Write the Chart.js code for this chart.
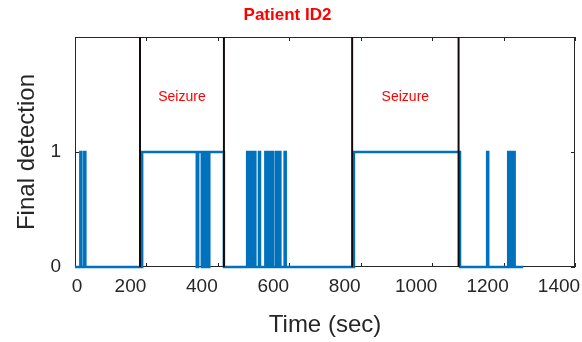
<!DOCTYPE html>
<html>
<head>
<meta charset="utf-8">
<title>Patient ID2</title>
<script src="https://cdn.jsdelivr.net/npm/chart.js@4.4.1/dist/chart.umd.min.js"></script>
<style>
    body { margin: 0; background: #ffffff; }
    #wrap { width: 582px; height: 342px; }
</style>
</head>
<body>
<div id="wrap"><canvas id="detectionChart" width="582" height="342"></canvas></div>
<script>
// Detection output: time (sec) where the value changes, and the new value
var detTime = [0, 15, 18, 26, 29, 188, 341, 345, 355, 359, 363, 366, 372, 376, 417,
               482, 485, 491, 494, 501, 505, 515, 518, 533, 537, 542, 545, 552, 555,
               563, 566, 571, 575, 587, 590, 781, 1078, 1154, 1157, 1213, 1216, 1218,
               1221, 1223, 1226, 1228, 1231, 1255];
var detValue = [0, 1, 0, 1, 0, 1, 0, 1, 0, 1, 0, 1, 0, 1, 0,
                1, 0, 1, 0, 1, 0, 1, 0, 1, 0, 1, 0, 1, 0,
                1, 0, 1, 0, 1, 0, 1, 0, 1, 0, 1, 0, 1,
                0, 1, 0, 1, 0, 0];

// Seizure onset / offset markers (sec)
var seizureStart = [182, 776];
var seizureEnd = [417, 1074];
var seizureLabel = 'Seizure';

var xTicks = [0, 200, 400, 600, 800, 1000, 1200, 1400];
var yTicks = [0, 1];

var textColor = '#262626';
var fontFamily = 'Arial, "Liberation Sans", Helvetica, sans-serif';

function buildDatasets() {
    var sets = [];
    var bounds = seizureStart.concat(seizureEnd);
    // vertical black lines at each seizure boundary
    for (var i = 0; i < bounds.length; i++) {
        sets.push({
            data: [{x: bounds[i], y: 0}, {x: bounds[i], y: 2}],
            borderColor: '#140a0a',
            borderWidth: 2,
            pointRadius: 0,
            clip: false
        });
    }
    var points = detTime.map(function(t, i) { return {x: t, y: detValue[i]}; });
    sets.push({
        data: points,
        borderColor: '#0072BD',
        borderWidth: 2.5,
        stepped: true,
        pointRadius: 0,
        clip: false
    });
    return sets;
}

// frame, inward ticks, x tick labels and the seizure captions
var axesDecor = {
    id: 'axesDecor',
    beforeDatasetsDraw: function(chart) {
        var ctx = chart.ctx;
        var a = chart.chartArea;
        var xs = chart.scales.x, ys = chart.scales.y;
        ctx.save();
        ctx.strokeStyle = textColor;
        ctx.lineWidth = 1;
        ctx.strokeRect(a.left + 0.5, a.top + 0.5, a.right - a.left - 1, a.bottom - a.top - 1);
        ctx.beginPath();
        xTicks.forEach(function(v) {
            var px = Math.round(xs.getPixelForValue(v)) + 0.5;
            ctx.moveTo(px, a.bottom); ctx.lineTo(px, a.bottom - 4);
            ctx.moveTo(px, a.top); ctx.lineTo(px, a.top + 4);
        });
        yTicks.forEach(function(v) {
            var py = Math.round(ys.getPixelForValue(v)) + 0.5;
            ctx.moveTo(a.left, py); ctx.lineTo(a.left + 4, py);
            ctx.moveTo(a.right, py); ctx.lineTo(a.right - 4, py);
        });
        ctx.stroke();
        ctx.restore();
    },
    afterDraw: function(chart) {
        var ctx = chart.ctx;
        var xs = chart.scales.x, ys = chart.scales.y;
        ctx.save();
        ctx.fillStyle = textColor;
        ctx.font = '19px ' + fontFamily;
        ctx.textAlign = 'center';
        ctx.textBaseline = 'middle';
        xTicks.forEach(function(v) {
            var shift = v === 0 ? 2 : -16;
            ctx.fillText(String(v), xs.getPixelForValue(v) + shift, chart.chartArea.bottom + 20);
        });
        ctx.fillStyle = '#ff0000';
        ctx.font = '14px ' + fontFamily;
        for (var i = 0; i < seizureStart.length; i++) {
            var mid = (seizureStart[i] + seizureEnd[i]) / 2;
            ctx.fillText(seizureLabel, xs.getPixelForValue(mid), ys.getPixelForValue(1.48));
        }
        ctx.restore();
    }
};

var ctx = document.getElementById('detectionChart').getContext('2d');
new Chart(ctx, {
    type: 'line',
    data: { datasets: buildDatasets() },
    options: {
        responsive: false,
        animation: false,
        events: [],
        layout: { padding: { top: 0, right: 7, bottom: 0, left: 0 } },
        plugins: {
            legend: { display: false },
            tooltip: { enabled: false },
            title: {
                display: true,
                text: 'Patient ID2',
                color: '#ff0000',
                font: { family: fontFamily, size: 17, weight: 'bold' },
                padding: { top: 5, bottom: 11.6 }
            }
        },
        scales: {
            x: {
                type: 'linear',
                min: 0,
                max: 1400,
                ticks: { display: false, stepSize: 200 },
                grid: { display: false, drawTicks: false },
                border: { display: false },
                title: {
                    display: true,
                    text: 'Time (sec)',
                    color: textColor,
                    font: { family: fontFamily, size: 24 },
                    padding: { top: 0, bottom: 2.6 }
                },
                afterFit: function(scale) { scale.height = 75; }
            },
            y: {
                min: 0,
                max: 2,
                afterBuildTicks: function(scale) {
                    scale.ticks = yTicks.map(function(v) { return {value: v}; });
                },
                ticks: {
                    color: textColor,
                    padding: 14,
                    font: { family: fontFamily, size: 19 }
                },
                grid: { display: false, drawTicks: false },
                border: { display: false },
                title: {
                    display: true,
                    text: 'Final detection',
                    color: textColor,
                    font: { family: fontFamily, size: 24 },
                    padding: { top: 12.6, bottom: 0 }
                },
                afterFit: function(scale) { scale.width = 75; }
            }
        }
    },
    plugins: [axesDecor]
});
</script>
</body>
</html>
